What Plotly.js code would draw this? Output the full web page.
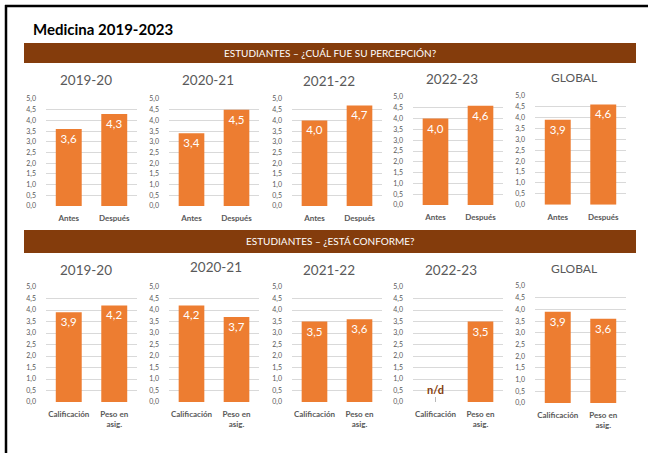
<!DOCTYPE html>
<html>
<head>
<meta charset="utf-8">
<script src="https://cdn.plot.ly/plotly-3.0.1.min.js"></script>
<style>
  html, body { margin: 0; padding: 0; background: #ffffff; }
  #chart { width: 648px; height: 453px; }
</style>
</head>
<body>
<div id="chart"></div>
<script>
// ---- Data ----
const mainTitle = 'Medicina 2019-2023';
const bannerTop = 'ESTUDIANTES – ¿CUÁL FUE SU PERCEPCIÓN?';
const bannerBottom = 'ESTUDIANTES – ¿ESTÁ CONFORME?';
const periods = ['2019-20', '2020-21', '2021-22', '2022-23', 'GLOBAL'];
const topCategories = ['Antes', 'Después'];
const bottomCategories = ['Calificación', 'Peso en<br>asig.'];
const antes = [3.6, 3.4, 4.0, 4.0, 3.9];
const despues = [4.3, 4.5, 4.7, 4.6, 4.6];
const calificacion = [3.9, 4.2, 3.5, null, 3.9];
const pesoAsig = [4.2, 3.7, 3.6, 3.5, 3.6];
const missingLabel = 'n/d';
const yTicks = [0, 0.5, 1, 1.5, 2, 2.5, 3, 3.5, 4, 4.5, 5];

// ---- Styling / layout helpers ----
const W = 648, H = 453;
const ORANGE = '#ED7D31';
const BROWN = '#843C0C';
const GREY = '#595959';
const FONT = 'Lato, "Open Sans", sans-serif';
const px = v => v / W;
const py = v => 1 - v / H;

// plot-area pixel extents for each column (left,right)
const colX = [[46, 137], [169, 259], [292, 382], [413, 503], [535, 626]];
// top row y extents (y at 0, y at 5)
const topY = [[206, 99], [206, 99], [206, 99], [205, 97], [204.7, 95.7]];
const botY = [[402, 287], [402, 287], [402, 287], [402, 287], [403, 286]];
// chart title centers
const topTitlePos = [[85.5, 80], [207.5, 80], [329, 81], [451.5, 78.5], [573.5, 77.5]];
const botTitlePos = [[85.5, 270], [216, 267], [329, 270], [451, 270], [573.5, 268]];

const traces = [];
const layout = {
  width: W, height: H,
  margin: {l: 0, r: 0, t: 0, b: 0, pad: 0},
  paper_bgcolor: '#ffffff',
  plot_bgcolor: 'rgba(0,0,0,0)',
  showlegend: false,
  separators: ',.',
  font: {family: FONT, color: GREY},
  bargap: 0.43,
  annotations: [],
  shapes: []
};

function addChart(idx, cats, vals, xr, yr) {
  const n = idx + 1;
  const xa = n === 1 ? 'x' : 'x' + n;
  const ya = n === 1 ? 'y' : 'y' + n;
  traces.push({
    type: 'bar',
    x: cats,
    y: vals,
    xaxis: xa, yaxis: ya,
    marker: {color: ORANGE},
    texttemplate: '%{y:.1f}',
    textposition: 'inside',
    insidetextanchor: 'end',
    textangle: 0,
    constraintext: 'none',
    textfont: {family: FONT, size: 11.5, color: '#ffffff'},
    hoverinfo: 'skip'
  });
  layout['xaxis' + (n === 1 ? '' : n)] = {
    domain: [px(xr[0]), px(xr[1])],
    anchor: ya,
    type: 'category',
    range: [-0.5, 1.5],
    showgrid: false, zeroline: false, showline: false,
    ticks: '',
    tickfont: {family: FONT, size: 8, color: GREY, weight: 'bold'},
    ticklabelstandoff: 6,
    fixedrange: true
  };
  layout['yaxis' + (n === 1 ? '' : n)] = {
    domain: [py(yr[0]), py(yr[1])],
    anchor: xa,
    range: [0, 5],
    tickvals: yTicks,
    tickformat: '.1f',
    showgrid: true, gridcolor: '#D9D9D9', gridwidth: 1,
    zeroline: false, showline: false,
    ticks: '',
    tickfont: {family: FONT, size: 7, color: GREY},
    ticklabelstandoff: 9,
    fixedrange: true
  };
  return [xa, ya];
}

for (let i = 0; i < 5; i++) {
  addChart(i, topCategories, [antes[i], despues[i]], colX[i], topY[i]);
  layout.annotations.push({
    xref: 'paper', yref: 'paper', x: px(topTitlePos[i][0]), y: py(topTitlePos[i][1]),
    xanchor: 'center', yanchor: 'middle', showarrow: false,
    text: periods[i], font: {family: FONT, size: periods[i] === 'GLOBAL' ? 12 : 13.5, color: GREY}
  });
}
for (let i = 0; i < 5; i++) {
  const [xa, ya] = addChart(i + 5, bottomCategories, [calificacion[i], pesoAsig[i]], colX[i], botY[i]);
  layout.annotations.push({
    xref: 'paper', yref: 'paper', x: px(botTitlePos[i][0]), y: py(botTitlePos[i][1]),
    xanchor: 'center', yanchor: 'middle', showarrow: false,
    text: periods[i], font: {family: FONT, size: periods[i] === 'GLOBAL' ? 12 : 13.5, color: GREY}
  });
  if (calificacion[i] === null) {
    layout.annotations.push({
      xref: xa, yref: ya, x: bottomCategories[0], y: 0,
      text: '<b>' + missingLabel + '</b>',
      font: {family: FONT, size: 11, color: BROWN},
      showarrow: true, arrowhead: 0, arrowwidth: 0.8, arrowcolor: '#A6A6A6',
      ax: 0, ay: -13, standoff: 0
    });
  }
}

// main title
layout.annotations.push({
  xref: 'paper', yref: 'paper', x: px(31), y: py(29),
  xanchor: 'left', yanchor: 'middle', showarrow: false,
  text: '<b>' + mainTitle + '</b>', font: {family: FONT, size: 15, color: '#000000'}
});
// banners
const banners = [[bannerTop, 43, 63], [bannerBottom, 230, 253]];
banners.forEach(b => {
  layout.shapes.push({
    type: 'rect', xref: 'paper', yref: 'paper', layer: 'below',
    x0: px(24), x1: px(636), y0: py(b[2]), y1: py(b[1]),
    fillcolor: BROWN, line: {width: 0}
  });
  layout.annotations.push({
    xref: 'paper', yref: 'paper', x: px(330), y: py((b[1] + b[2]) / 2),
    xanchor: 'center', yanchor: 'middle', showarrow: false,
    text: b[0], font: {family: FONT, size: 10, color: '#ffffff'}
  });
});
// frame (top and left borders)
layout.shapes.push({
  type: 'line', xref: 'paper', yref: 'paper',
  x0: px(5), x1: 1, y0: py(6), y1: py(6), line: {color: '#000000', width: 2.5}
});
layout.shapes.push({
  type: 'line', xref: 'paper', yref: 'paper',
  x0: px(6), x1: px(6), y0: 0, y1: py(5), line: {color: '#000000', width: 2.5}
});

Plotly.newPlot('chart', traces, layout, {staticPlot: true, displayModeBar: false});
</script>
</body>
</html>
